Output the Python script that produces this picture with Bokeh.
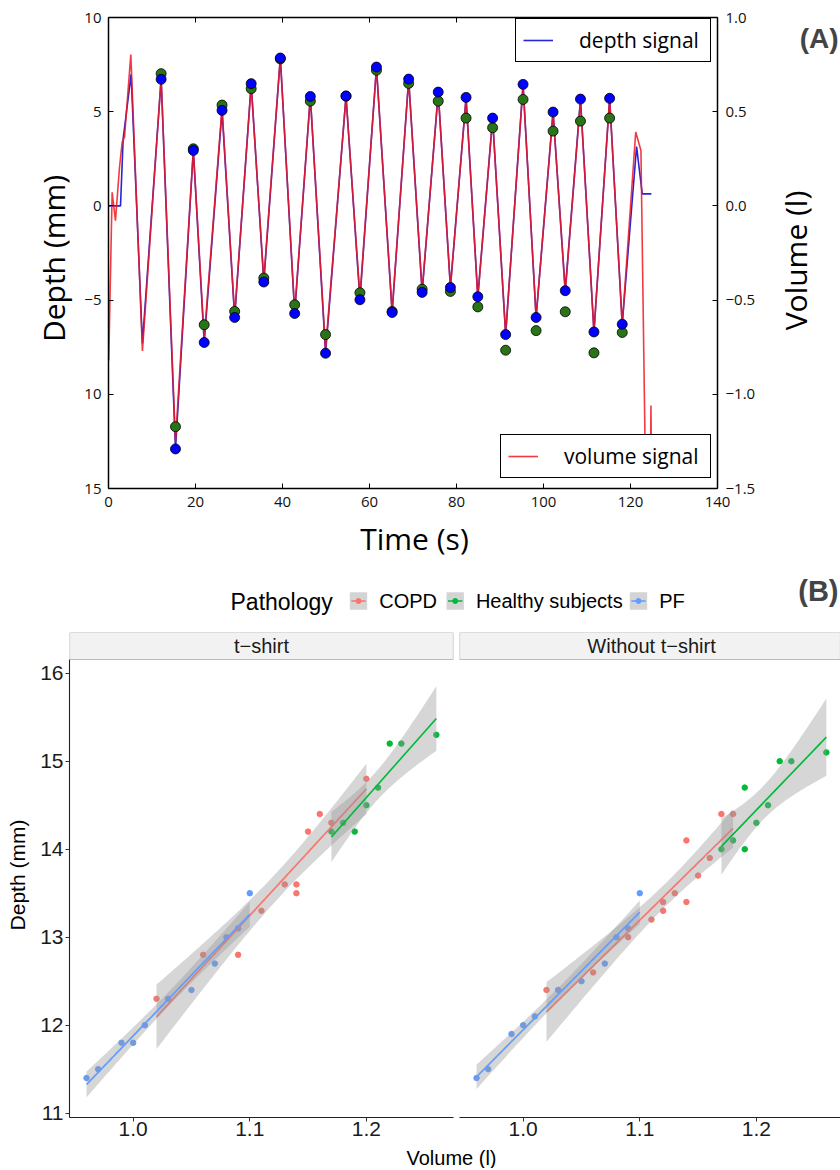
import math
import numpy as np
from bokeh.plotting import figure
from bokeh.models import (Range1d, LinearAxis, FixedTicker, Legend, LegendItem, Label,
                          BoxAnnotation, CustomLabelingPolicy, PrintfTickFormatter)
from bokeh.layouts import column, row
from bokeh.embed import file_html
from bokeh.resources import INLINE
from bokeh.core.properties import value

# ---------------- (A) signals ----------------
# extrema (breath peaks / troughs)
extrema_time_s = [12.1, 15.4, 19.5, 22.0, 26.1, 29.0, 32.8, 35.7, 39.5, 42.8, 46.4, 49.9,
                  54.6, 57.8, 61.6, 65.2, 69.0, 72.1, 75.8, 78.6, 82.2, 84.9, 88.3, 91.3,
                  95.3, 98.3, 102.2, 105.0, 108.5, 111.6, 115.2, 118.1]
depth_marker_mm = [6.72, -12.9, 2.94, -7.25, 5.07, -5.92, 6.49, -4.04, 7.85, -5.71, 5.81, -7.82,
                   5.83, -4.98, 7.37, -5.66, 6.73, -4.59, 6.04, -4.33, 5.76, -4.82, 4.66, -6.83,
                   6.45, -5.92, 4.98, -4.50, 5.67, -6.69, 5.71, -6.28]
volume_marker_l = [0.702, -1.172, 0.303, -0.631, 0.535, -0.560, 0.622, -0.383, 0.780, -0.525, 0.556, -0.683,
                   0.583, -0.461, 0.720, -0.560, 0.650, -0.442, 0.556, -0.454, 0.466, -0.536, 0.415, -0.766,
                   0.565, -0.662, 0.397, -0.562, 0.450, -0.780, 0.466, -0.672]
volume_line_l = [0.68, -1.25, 0.30, -0.70, 0.52, -0.58, 0.64, -0.39, 0.79, -0.56, 0.58, -0.76,
                 0.58, -0.48, 0.73, -0.56, 0.67, -0.45, 0.60, -0.43, 0.57, -0.49, 0.46, -0.68,
                 0.64, -0.59, 0.50, -0.46, 0.56, -0.67, 0.57, -0.63]
# start / end portions of the two signals
depth_start_t = [0.0, 2.76, 3.37, 5.2, 7.8]
depth_start_mm = [0.0, 0.0, 3.56, 6.98, -7.3]
depth_end_t = [121.4, 122.7, 124.8]
depth_end_mm = [3.15, 0.64, 0.64]
vol_start_t = [0.05, 0.84, 1.6, 2.53, 3.14, 3.68, 5.13, 7.8]
vol_start_l = [-0.82, 0.072, -0.078, 0.205, 0.338, 0.365, 0.803, -0.77]
vol_end_t = [121.2, 122.4, 123.4, 124.6, 124.7, 124.8]
vol_end_l = [0.392, 0.294, -1.35, -1.35, -1.06, -1.35]

time_ticks = [0, 20, 40, 60, 80, 100, 120, 140]
depth_ticks = [-15, -10, -5, 0, 5, 10]
depth_tick_labels = ["15", "10", "\u22125", "0", "5", "10"]
vol_ticks = [-1.5, -1.0, -0.5, 0.0, 0.5, 1.0]
vol_tick_labels = ["\u22121.5", "\u22121.0", "\u22120.5", "0.0", "0.5", "1.0"]

# ---------------- (B) regression data ----------------
pathologies = ["COPD", "Healthy subjects", "PF"]
path_colors = ["#F8766D", "#00BA38", "#619CFF"]
facets = ["t\u2212shirt", "Without t\u2212shirt"]

tshirt_copd_vol = [1.02, 1.06, 1.09, 1.11, 1.13, 1.14, 1.14, 1.15, 1.16, 1.17, 1.20]
tshirt_copd_depth = [12.3, 12.8, 12.8, 13.3, 13.6, 13.6, 13.5, 14.2, 14.4, 14.3, 14.8]
tshirt_healthy_vol = [1.17, 1.18, 1.19, 1.20, 1.21, 1.22, 1.23, 1.26]
tshirt_healthy_depth = [14.2, 14.3, 14.2, 14.5, 14.7, 15.2, 15.2, 15.3]
tshirt_pf_vol = [0.96, 0.97, 0.99, 1.00, 1.01, 1.03, 1.05, 1.07, 1.08, 1.09, 1.10]
tshirt_pf_depth = [11.4, 11.5, 11.8, 11.8, 12.0, 12.3, 12.4, 12.7, 13.0, 13.1, 13.5]

noshirt_copd_vol = [1.02, 1.06, 1.09, 1.11, 1.12, 1.12, 1.13, 1.14, 1.14, 1.15, 1.16, 1.17, 1.18]
noshirt_copd_depth = [12.4, 12.6, 13.0, 13.2, 13.3, 13.4, 13.5, 13.4, 14.1, 13.7, 13.9, 14.4, 14.4]
noshirt_healthy_vol = [1.17, 1.18, 1.19, 1.19, 1.20, 1.21, 1.22, 1.23, 1.26]
noshirt_healthy_depth = [14.0, 14.1, 14.0, 14.7, 14.3, 14.5, 15.0, 15.0, 15.1]
noshirt_pf_vol = [0.96, 0.97, 0.99, 1.00, 1.01, 1.03, 1.05, 1.07, 1.08, 1.09, 1.10]
noshirt_pf_depth = [11.4, 11.5, 11.9, 12.0, 12.1, 12.4, 12.5, 12.7, 13.0, 13.1, 13.5]

depth_b_ticks = [11, 12, 13, 14, 15, 16]
vol_b_ticks = [1.0, 1.1, 1.2]

# =========================================================
MPL_FONT = "Open Sans"
GG_FONT = "Liberation Sans"

# top figure: the frame fills the whole figure, axes are pinned with fixed_location
W, H = 840, 568
PL, PR, PT, PB = 108, 717, 17, 488          # pixel box of the matplotlib axes
T0, T1 = time_ticks[0], time_ticks[-1]
D0, D1 = depth_ticks[0], depth_ticks[-1]
V0, V1 = vol_ticks[0], vol_ticks[-1]
sx = (PR - PL) / (T1 - T0)
sy = (PB - PT) / (D1 - D0)
svol = (PB - PT) / (V1 - V0)


def tx(px):   # page x -> time units (for placing decorations)
    return T0 + (px - PL) / sx


def dy(py):   # page y -> depth units
    return D1 - (py - PT) / sy


pa = figure(width=W, height=H,
            x_range=Range1d(tx(0), tx(W)), y_range=Range1d(dy(H), dy(0)),
            output_backend="svg", toolbar_location=None,
            x_axis_location=None, y_axis_location=None,
            min_border_left=0, min_border_right=0, min_border_top=0, min_border_bottom=0)
pa.grid.visible = False
pa.outline_line_color = None
pa.extra_y_ranges = {"vol": Range1d(V0 - (H - PB) / svol, V1 + PT / svol)}


def mpl_axis(ax, ticks, labels=None, standoff=8):
    ax.ticker = FixedTicker(ticks=ticks)
    if labels is not None:
        ax.major_label_overrides = {t: l for t, l in zip(ticks, labels)}
    ax.major_tick_in = 5
    ax.major_tick_out = 0
    ax.minor_tick_line_color = None
    ax.axis_line_color = "black"
    ax.axis_line_width = 1.5
    ax.major_tick_line_color = "black"
    ax.major_label_text_font = MPL_FONT
    ax.major_label_text_font_size = "15px"
    ax.major_label_text_color = "#111111"
    ax.major_label_standoff = standoff


ax_b = LinearAxis(fixed_location=D0, bounds=(T0, T1))
mpl_axis(ax_b, time_ticks, standoff=8)
pa.add_layout(ax_b, "below")

ax_l = LinearAxis(fixed_location=T0, bounds=(D0, D1))
mpl_axis(ax_l, depth_ticks, depth_tick_labels, standoff=7)
pa.add_layout(ax_l, "left")

ax_t = LinearAxis(fixed_location=D1, bounds=(T0, T1))
mpl_axis(ax_t, time_ticks)
ax_t.major_label_policy = CustomLabelingPolicy(code="for (const i of indices) { if (i < 0) yield i }")
pa.add_layout(ax_t, "above")

ax_r = LinearAxis(y_range_name="vol", fixed_location=T1, bounds=(V0, V1))
mpl_axis(ax_r, vol_ticks, vol_tick_labels, standoff=8)
pa.add_layout(ax_r, "right")


def axis_title(text, px, py, angle):
    pa.add_layout(Label(x=tx(px), y=dy(py), text=text, angle=angle,
                        text_align="center", text_baseline="middle",
                        text_font=MPL_FONT, text_font_size="30px", text_color="black"))


axis_title("Time (s)", 414, 538, 0)
axis_title("Depth (mm)", 53, 258, math.pi / 2)
axis_title("Volume (l)", 795, 260, math.pi / 2)

depth_t = depth_start_t + extrema_time_s + depth_end_t
depth_v = depth_start_mm + depth_marker_mm + depth_end_mm
vol_t = vol_start_t + extrema_time_s + vol_end_t
vol_v = vol_start_l + volume_line_l + vol_end_l

r_depth = pa.line(depth_t, depth_v, line_color="#2626d6", line_width=1.6)
r_vol = pa.line(vol_t, vol_v, y_range_name="vol", line_color="#f01820", line_width=1.6, line_alpha=0.85)
pa.scatter(extrema_time_s, volume_marker_l, y_range_name="vol", size=10,
           fill_color="#2a7418", line_color="black", line_width=0.8)
pa.scatter(extrema_time_s, depth_marker_mm, size=10,
           fill_color="#0000ff", line_color="black", line_width=0.8)


def mpl_legend(item_label, rend, left_px, bottom_px, lw):
    lg = Legend(items=[LegendItem(label=item_label, renderers=[rend])],
                location=(left_px, H - bottom_px),
                margin=0, padding=7, glyph_width=30, glyph_height=20, label_standoff=26,
                label_width=lw, label_text_font=MPL_FONT, label_text_font_size="21px",
                label_text_color="black",
                border_line_color="black", border_line_width=1.2, border_line_alpha=1,
                background_fill_color="white", background_fill_alpha=1)
    pa.add_layout(lg)


mpl_legend("depth signal", r_depth, 515, 62, 124)
mpl_legend("volume signal", r_vol, 500, 478, 139)

pa.add_layout(Label(x=tx(838), y=dy(38), text="(A)",
                    text_align="right", text_baseline="middle",
                    text_font=GG_FONT, text_font_style="bold", text_font_size="28px"))

# ---------------- legend strip for (B) ----------------
LH = 64
pl = figure(width=W, height=LH, x_range=Range1d(0, W), y_range=Range1d(LH, 0),
            output_backend="svg", toolbar_location=None,
            x_axis_location=None, y_axis_location=None,
            min_border_left=0, min_border_right=0, min_border_top=0, min_border_bottom=0)
pl.grid.visible = False
pl.outline_line_color = None
pl.add_layout(Label(x=230, y=33, text="Pathology", text_align="left", text_baseline="middle",
                    text_font=GG_FONT, text_font_size="23px", text_color="black"))
key_left = [349.3, 446.0, 629.3]
key_size = 17.4
key_cy = 32.5
pl.quad(left=key_left, right=[k + key_size for k in key_left],
        top=[key_cy - key_size / 2] * 3, bottom=[key_cy + key_size / 2] * 3,
        fill_color="#d4d4d4", line_color=None)
pl.segment(x0=[k + 1.5 for k in key_left], x1=[k + key_size - 1.5 for k in key_left],
           y0=[key_cy] * 3, y1=[key_cy] * 3, line_color=path_colors, line_width=1.6)
pl.scatter([k + key_size / 2 for k in key_left], [key_cy] * 3, size=5, color=path_colors)
pl.text(x=[k + key_size + 12 for k in key_left], y=[key_cy] * 3, text=pathologies,
        text_font=value(GG_FONT), text_font_size=value("20px"), text_baseline="middle",
        text_color="black")
pl.add_layout(Label(x=838, y=22, text="(B)", text_align="right", text_baseline="middle",
                    text_font=GG_FONT, text_font_style="bold", text_font_size="29px"))

# ---------------- facets ----------------
XL, XR = 0.9454, 1.2747
YB, YP = 10.951, 16.156
STRIP_PX = 27
PANEL_PX = 458
FH = 514
YT = YP + STRIP_PX * (YP - YB) / PANEL_PX


def t975(df):
    z = 1.959963985
    g1 = (z ** 3 + z) / 4
    g2 = (5 * z ** 5 + 16 * z ** 3 + 3 * z) / 96
    g3 = (3 * z ** 7 + 19 * z ** 5 + 17 * z ** 3 - 15 * z) / 384
    g4 = (79 * z ** 9 + 776 * z ** 7 + 1482 * z ** 5 - 1920 * z ** 3 - 945 * z) / 92160
    return z + g1 / df + g2 / df ** 2 + g3 / df ** 3 + g4 / df ** 4


def lm_band(xs, ys):
    x = np.asarray(xs, float)
    y = np.asarray(ys, float)
    n = len(x)
    xm = x.mean()
    sxx = ((x - xm) ** 2).sum()
    b = ((x - xm) * (y - y.mean())).sum() / sxx
    a = y.mean() - b * xm
    s = np.sqrt(((y - a - b * x) ** 2).sum() / (n - 2))
    g = np.linspace(x.min(), x.max(), 80)
    fit = a + b * g
    se = s * np.sqrt(1.0 / n + (g - xm) ** 2 / sxx)
    tq = t975(n - 2)
    return g, fit, fit - tq * se, fit + tq * se


def gg_axis(ax, ticks, fmt, standoff):
    ax.ticker = FixedTicker(ticks=ticks)
    ax.formatter = PrintfTickFormatter(format=fmt)
    ax.major_tick_out = 4
    ax.major_tick_in = 0
    ax.minor_tick_line_color = None
    ax.axis_line_color = "#222222"
    ax.axis_line_width = 1.1
    ax.major_tick_line_color = "#333333"
    ax.major_label_text_font = GG_FONT
    ax.major_label_text_font_size = "21px"
    ax.major_label_text_color = "#1a1a1a"
    ax.major_label_standoff = standoff


def facet(width, left_border, right_border, show_y, title, groups):
    frame_w = width - left_border - right_border
    xr = XL + (XR - XL) * frame_w / 384.0
    f = figure(width=width, height=FH, x_range=Range1d(XL, xr), y_range=Range1d(YB, YT),
               output_backend="svg", toolbar_location=None,
               y_axis_location="left" if show_y else None,
               min_border_left=left_border, min_border_right=right_border,
               min_border_top=0, min_border_bottom=FH - STRIP_PX - PANEL_PX)
    f.grid.visible = False
    f.outline_line_color = None
    gg_axis(f.xaxis[0], vol_b_ticks, "%.1f", 0)
    if show_y:
        ya = f.yaxis[0]
        gg_axis(ya, depth_b_ticks, "%d", 2)
        ya.bounds = (YB, YP)
        ya.axis_label = "Depth (mm)"
        ya.axis_label_text_font = GG_FONT
        ya.axis_label_text_font_size = "21px"
        ya.axis_label_text_font_style = "normal"
        ya.axis_label_text_color = "black"
        ya.axis_label_standoff = 8
    f.add_layout(BoxAnnotation(bottom=YP, fill_color="#f2f2f2", fill_alpha=1,
                               line_color="#333333", line_width=1.2))
    f.add_layout(Label(x=(XL + XR) / 2, y=(YP + YT) / 2, text=title, text_align="center",
                       text_baseline="middle", text_font=GG_FONT, text_font_size="20px",
                       text_color="#1a1a1a"))
    for (xs, ys), col in zip(groups, path_colors):
        f.scatter(xs, ys, size=5.5, color=col)
    for (xs, ys), col in zip(groups, path_colors):
        g, fit, lo, hi = lm_band(xs, ys)
        f.varea(x=g, y1=lo, y2=hi, fill_color="#999999", fill_alpha=0.4)
        f.line(g, fit, line_color=col, line_width=1.7)
    return f


f1 = facet(456, 69, 3, True, facets[0],
           [(tshirt_copd_vol, tshirt_copd_depth), (tshirt_healthy_vol, tshirt_healthy_depth),
            (tshirt_pf_vol, tshirt_pf_depth)])
f2 = facet(W - 456, 3, 0, False, facets[1],
           [(noshirt_copd_vol, noshirt_copd_depth), (noshirt_healthy_vol, noshirt_healthy_depth),
            (noshirt_pf_vol, noshirt_pf_depth)])

FOOT = 1168 - H - LH - FH
pf = figure(width=W, height=FOOT, x_range=Range1d(0, W), y_range=Range1d(FOOT, 0),
            output_backend="svg", toolbar_location=None,
            x_axis_location=None, y_axis_location=None,
            min_border_left=0, min_border_right=0, min_border_top=0, min_border_bottom=0)
pf.grid.visible = False
pf.outline_line_color = None
pf.add_layout(Label(x=451, y=FOOT / 2, text="Volume (l)", text_align="center", text_baseline="middle",
                    text_font=GG_FONT, text_font_size="20px", text_color="black"))

layout = column(pa, pl, row(f1, f2), pf)
open("out.html", "w").write(file_html(layout, INLINE))
